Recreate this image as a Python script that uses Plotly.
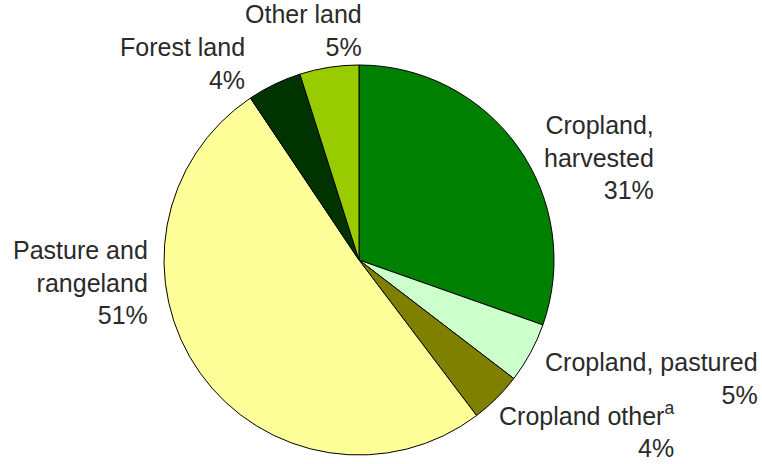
import plotly.graph_objects as go

categories = ["Cropland, harvested", "Cropland, pastured", "Cropland other", "Pasture and rangeland", "Forest land", "Other land"]
values = [30.4, 5.0, 4.3, 50.9, 4.5, 4.9]
# percentages as printed on the chart
pct_labels = ["31%", "5%", "4%", "51%", "4%", "5%"]
label_texts = ["Cropland,<br>harvested", "Cropland, pastured", "Cropland other<sup>a</sup>", "Pasture and<br>rangeland", "Forest land", "Other land"]
colors = ["#008000", "#CCFFCC", "#808000", "#FFFF99", "#003300", "#99CC00"]

W, H = 762, 464
# label anchor positions (right edge x, vertical center y) in pixels
label_pos = [(656, 157), (760, 378), (676, 430), (150, 282), (247, 63), (364, 31)]

fig = go.Figure(go.Pie(
    labels=categories, values=values, sort=False, direction="clockwise", rotation=0,
    marker=dict(colors=colors, line=dict(color="black", width=1)),
    textinfo="none", hoverinfo="label", showlegend=False,
    domain=dict(x=[164 / W, 554 / W], y=[(H - 455) / H, (H - 65) / H]),
))

annotations = []
for txt, p, (px, py) in zip(label_texts, pct_labels, label_pos):
    annotations.append(dict(
        text=f"{txt}<br>{p}", x=px / W, y=1 - py / H, xref="paper", yref="paper",
        xanchor="right", yanchor="middle", align="right", showarrow=False,
        font=dict(family="Liberation Sans, Arial, sans-serif", size=25, color="#2a2a2a"),
    ))

fig.update_layout(
    width=W, height=H, margin=dict(l=0, r=0, t=0, b=0),
    paper_bgcolor="white", plot_bgcolor="white", annotations=annotations,
)
fig.write_html("out.html", config={"displayModeBar": False},
               post_script="document.body.style.margin='0';document.body.style.overflow='hidden';")
